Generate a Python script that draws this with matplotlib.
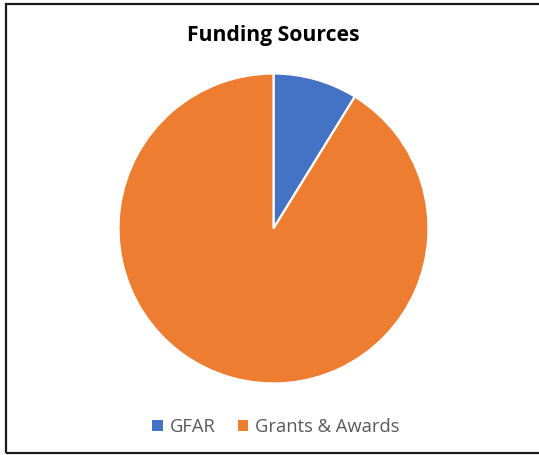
import matplotlib.pyplot as plt
from matplotlib.patches import Rectangle

labels = ["GFAR", "Grants & Awards"]
shares = [8.8, 91.2]
colors = ["#4472C4", "#ED7D31"]

W, H = 539, 455
fig = plt.figure(figsize=(W / 100, H / 100), dpi=100)

# chart frame
fig.patches.append(
    Rectangle((5.5 / W, 1 - 453 / H), 540 / W, 449.5 / H,
              transform=fig.transFigure, fill=False,
              edgecolor="#1a1a1a", linewidth=1.6)
)

cx, cy, r = 273.5, 228.5, 155.0
ax = fig.add_axes([(cx - r) / W, (H - cy - r) / H, 2 * r / W, 2 * r / H])
wedges, _ = ax.pie(
    shares,
    colors=colors,
    startangle=90,
    counterclock=False,
    wedgeprops={"edgecolor": "white", "linewidth": 1.6},
)
ax.set_xlim(-1, 1)
ax.set_ylim(-1, 1)
ax.set_aspect("equal")

fig.text(273 / W, 1 - 36 / H, "Funding Sources", ha="center", va="center",
         fontsize=15.2, fontweight="bold", family="Open Sans", color="black")

leg = fig.legend(
    wedges, labels, loc="center", bbox_to_anchor=(276 / W, 1 - 427 / H),
    ncol=2, frameon=False, handlelength=0.55, handleheight=0.55,
    handletextpad=0.4, columnspacing=1.2,
    prop={"family": "Open Sans", "size": 13.2},
)
for t in leg.get_texts():
    t.set_color("#595959")
for h in leg.legend_handles:
    h.set_edgecolor("none")

fig.savefig("out.png", dpi=100)
